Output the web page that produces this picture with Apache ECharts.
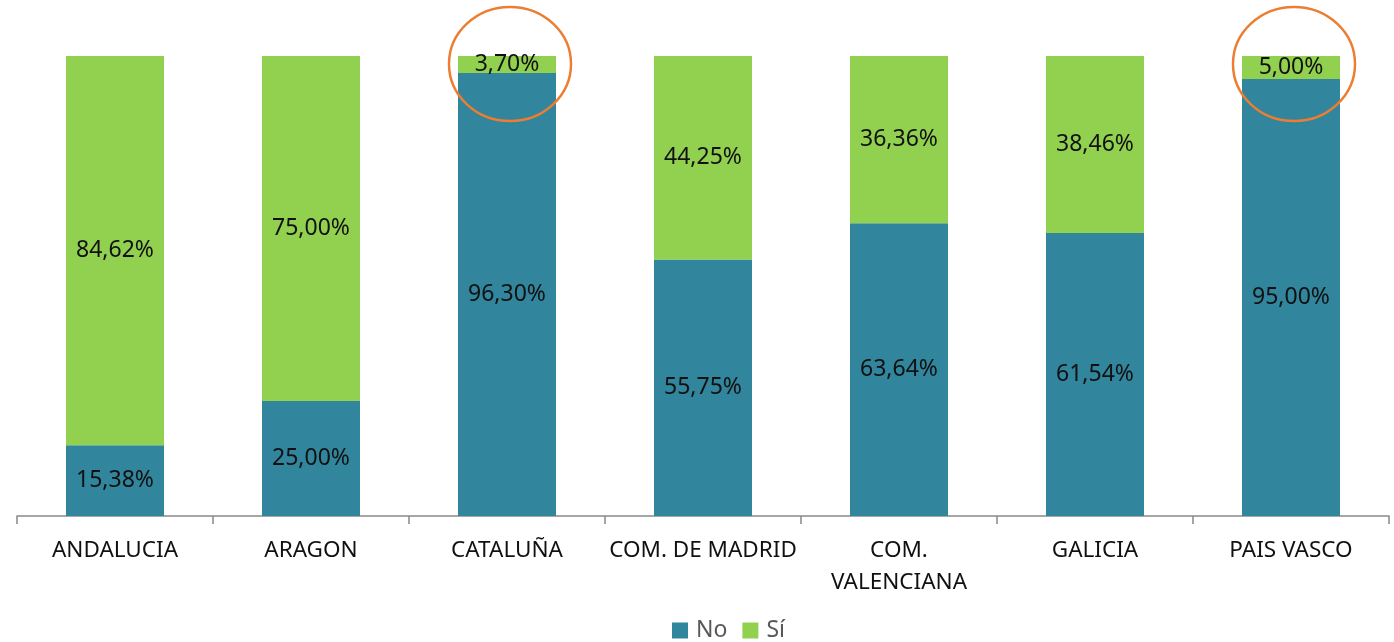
<!DOCTYPE html>
<html>
<head>
<meta charset="utf-8">
<script src="https://cdn.jsdelivr.net/npm/echarts@6/dist/echarts.min.js"></script>
<style>
  html, body { margin: 0; padding: 0; background: #ffffff; }
  #chart { width: 1394px; height: 642px; }
</style>
</head>
<body>
<div id="chart"></div>
<script>
// Share of answers per region (percent), stacked to 100%
const categories = ['ANDALUCIA', 'ARAGON', 'CATALUÑA', 'COM. DE MADRID', 'COM.\nVALENCIANA', 'GALICIA', 'PAIS VASCO'];
const noValues = [15.38, 25.00, 96.30, 55.75, 63.64, 61.54, 95.00];
const siValues = [84.62, 75.00, 3.70, 44.25, 36.36, 38.46, 5.00];
// Regions whose "Sí" share is circled
const circled = ['CATALUÑA', 'PAIS VASCO'];

const FONT = '"Noto Sans", "DejaVu Sans", sans-serif';

function pct(p) {
  return p.value.toFixed(2).replace('.', ',') + '%';
}

const chart = echarts.init(document.getElementById('chart'), null, { renderer: 'canvas' });

const labelStyle = {
  show: true,
  position: 'inside',
  formatter: pct,
  color: '#111111',
  fontSize: 23,
  fontFamily: FONT
};

chart.setOption({
  animation: false,
  backgroundColor: '#ffffff',
  grid: { left: 17, right: 5, top: 56, bottom: 126 },
  legend: {
    data: ['No', 'Sí'],
    left: 667,
    top: 614,
    icon: 'rect',
    itemWidth: 16,
    itemHeight: 16,
    itemGap: 15,
    textStyle: { fontSize: 23, color: '#595959', fontFamily: FONT, padding: [0, 0, 0, 3] }
  },
  xAxis: {
    type: 'category',
    data: categories,
    axisLine: { lineStyle: { color: '#898989', width: 1.5 } },
    axisTick: { show: true, length: 8, lineStyle: { color: '#898989', width: 1.5 } },
    axisLabel: {
      color: '#111111',
      fontSize: 22.5,
      fontFamily: FONT,
      margin: 19,
      lineHeight: 32,
      interval: 0
    }
  },
  yAxis: {
    type: 'value',
    min: 0,
    max: 100,
    show: false,
    splitLine: { show: false }
  },
  series: [
    {
      name: 'No',
      type: 'bar',
      stack: 'total',
      barWidth: '50%',
      data: noValues,
      itemStyle: { color: '#31859C' },
      label: labelStyle
    },
    {
      name: 'Sí',
      type: 'bar',
      stack: 'total',
      barWidth: '50%',
      data: siValues,
      itemStyle: { color: '#92D050' },
      label: labelStyle
    }
  ]
});

// Orange rings around the tops of the highlighted bars
const rings = circled.map(function (name) {
  const i = categories.indexOf(name);
  const pt = chart.convertToPixel({ seriesIndex: 1 }, [i, 100]);
  return {
    type: 'ellipse',
    shape: { cx: pt[0] + 3, cy: pt[1] + 8, rx: 61, ry: 57 },
    style: { fill: null, stroke: '#ED7D31', lineWidth: 2.5 },
    z: 100
  };
});
chart.setOption({ graphic: rings });
</script>
</body>
</html>
